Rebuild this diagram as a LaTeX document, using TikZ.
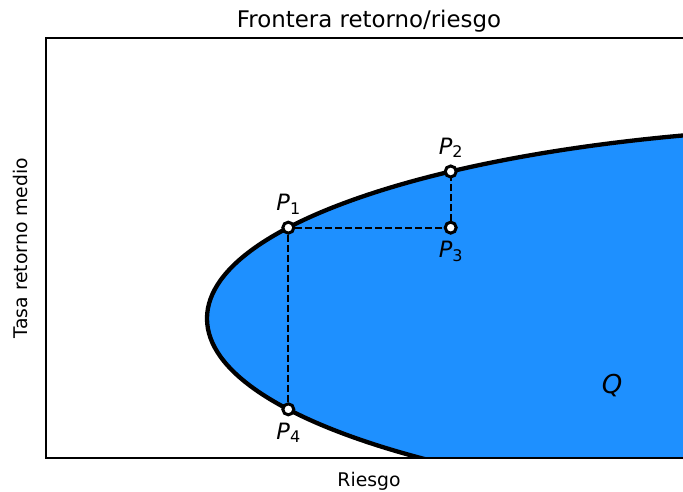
\documentclass[tikz,border=0pt]{standalone}
\usepackage{fontspec}
\setmainfont{DejaVu Sans}
\usepackage{xcolor}
\usepackage{tikz}
\definecolor{FRBlue}{HTML}{1E90FF}
\definecolor{FRInk}{HTML}{000000}
\newcommand{\plab}[1]{\textit{P}\raisebox{-3.5pt}{\fontsize{16}{16}\selectfont #1}}

\begin{document}
\begin{tikzpicture}[x=1pt,y=1pt,
  frpoint/.style={circle,draw=FRInk,fill=white,line width=3pt,minimum size=11pt,inner sep=0pt},
  frguide/.style={draw=FRInk,line width=2pt,dash pattern=on 7pt off 3pt},
  frlabel/.style={anchor=base,inner sep=0pt,font=\fontsize{22.5}{26}\selectfont}]
\path[use as bounding box] (0,0) rectangle (683,491);
\coordinate (c) at (890,172.5);
\begin{scope}
\clip (46,33) rectangle (690,453);
\filldraw[fill=FRBlue,draw=FRInk,line width=4.3pt] (c) ellipse [x radius=683pt,y radius=192pt];
\end{scope}
\draw[FRInk,line width=1.4pt] (46,33) rectangle (690,453);
\node[anchor=base,font=\fontsize{22.9}{27}\selectfont] (title) at (369,463) {Frontera retorno/riesgo};
\node[anchor=base,font=\fontsize{18.8}{22}\selectfont] (xlab) at (369,5) {Riesgo};
\node[rotate=90,font=\fontsize{18.8}{22}\selectfont] (ylab) at (20.5,243) {Tasa retorno medio};
\path (c) ++(151.76:683pt and 192pt) coordinate (P1);
\path (c) ++(130.03:683pt and 192pt) coordinate (P2);
\path (c) ++(208.24:683pt and 192pt) coordinate (P4);
\coordinate (P3) at (P2 |- P1);
\node[frpoint] (p1) at (P1) {};
\node[frpoint] (p2) at (P2) {};
\node[frpoint] (p3) at (P3) {};
\node[frpoint] (p4) at (P4) {};
\draw[frguide] (p1) -- (p3);
\draw[frguide] (p3) -- (p2);
\draw[frguide] (p1) -- (p4);
\node[frlabel] (l1) at ([yshift=17pt]P1) {\plab{1}};
\node[frlabel] (l2) at ([yshift=17pt]P2) {\plab{2}};
\node[frlabel] (l3) at ([yshift=-30pt]P3) {\plab{3}};
\node[frlabel] (l4) at ([yshift=-30pt]P4) {\plab{4}};
\node[frlabel,font=\fontsize{26}{30}\selectfont] (q) at (612,98) {\textit{Q}};
\end{tikzpicture}
\end{document}
